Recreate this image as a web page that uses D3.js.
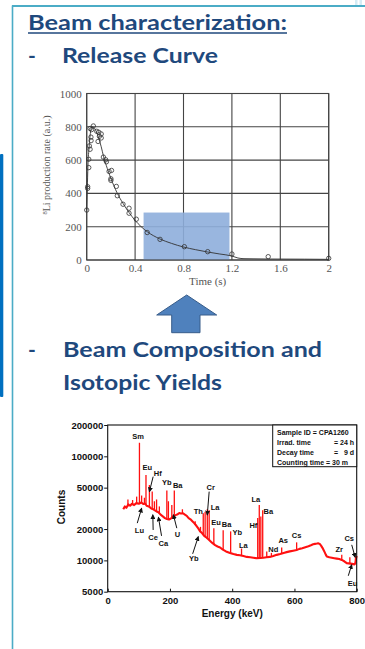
<!DOCTYPE html>
<html>
<head>
<meta charset="utf-8">
<script src="https://cdn.jsdelivr.net/npm/d3@7"></script>
<style>
  body { margin: 0; background: #fff; }
  svg { display: block; }
</style>
</head>
<body>
<svg id="slide" width="365" height="649"></svg>
<script>
// ---------- Release curve (8Li) ----------
const releaseTimes = [0, 0.008, 0.008, 0.017, 0.017, 0.022, 0.028, 0.028, 0.04, 0.035, 0.036, 0.055,
  0.083, 0.1, 0.105, 0.12, 0.12, 0.094, 0.138, 0.157, 0.163, 0.185, 0.205, 0.2, 0.2, 0.245, 0.253,
  0.3, 0.35, 0.35, 0.41, 0.5, 0.606, 0.807, 1.0, 1.2, 1.5, 2.0];
const releaseRates = [300, 440, 430, 555, 605, 685, 665, 790, 783, 738, 717, 805,
  773, 767, 743, 733, 757, 712, 618, 602, 590, 532, 538, 488, 478, 442, 386,
  335, 311, 281, 245, 165, 124, 80, 50, 36, 20, 10];
const fitTimes = [0, 0.005, 0.01, 0.02, 0.03, 0.045, 0.06, 0.08, 0.1, 0.12, 0.14, 0.17, 0.2, 0.25,
  0.3, 0.35, 0.4, 0.45, 0.5, 0.6, 0.7, 0.8, 0.9, 1.0, 1.1, 1.2, 1.25, 1.3, 1.5, 1.8, 2.0];
const fitRates = [300, 430, 560, 680, 760, 800, 795, 770, 730, 680, 620, 550, 490, 405,
  340, 285, 238, 200, 170, 128, 100, 78, 62, 48, 36, 24, 12, 8, 6, 5, 4];
const timeTicks = [0, 0.4, 0.8, 1.2, 1.6, 2];
const rateTicks = [0, 200, 400, 600, 800, 1000];
const windowTimes = [0.47, 1.18];   // highlighted extraction window (s)
const windowRate = 285;

// ---------- Gamma spectrum ----------
const continuumEnergy = [50, 55, 60, 66, 72, 78, 85, 92, 100, 108, 115, 120, 125, 132, 140, 148, 157,
  163, 170, 177, 184, 190, 197, 205, 212, 218, 225, 230, 235, 242, 248, 254, 260, 266, 272, 278, 285,
  291, 297, 303, 310, 318, 326, 335, 345, 353, 361, 370, 380, 393, 404, 415, 425, 436, 447, 458, 468,
  479, 490, 500, 510, 521, 532, 543, 554, 565, 575, 585, 596, 607, 616, 625, 635, 645, 653, 660, 666,
  672, 677, 682, 686, 690, 694, 697, 701, 704, 712, 720, 728, 736, 744, 752, 760, 768, 774, 780, 785,
  789, 793, 795, 797, 798, 800];
const continuumCounts = [31000, 33000, 32000, 34500, 33500, 35000, 34000, 35500, 35000, 36000, 34800,
  35200, 33500, 33000, 31500, 30800, 29500, 29000, 27500, 26500, 25500, 25000, 24700, 25500, 26800,
  27200, 27800, 28500, 28200, 28400, 27500, 26800, 25500, 24800, 23800, 22800, 21500, 20300, 19000,
  18300, 17200, 16500, 15700, 14800, 14000, 13600, 13300, 12700, 12200, 11800, 11500, 11300, 11200,
  11000, 10800, 10700, 10600, 10500, 10550, 10600, 10700, 10800, 11000, 11300, 11500, 11800, 12000,
  12200, 12400, 12600, 12900, 13100, 13400, 13700, 14000, 14300, 14400, 14500, 14600, 14300, 13800,
  13200, 12500, 12000, 11300, 10900, 10700, 10600, 10500, 10400, 10300, 10100, 9800, 9400, 9350, 9300,
  9250, 9200, 9150, 9300, 9800, 10500, 11000];
const peakEnergy = [65, 80, 93, 102, 109, 118, 123, 134, 143, 150, 157, 166, 190, 195, 206, 214, 240,
  281, 298, 307, 313, 320, 326, 341, 371, 395, 430, 482, 487, 492, 498, 511, 526, 559, 607, 752, 778, 796];
const peakBase = [33000, 34000, 35000, 35500, 35500, 34500, 34000, 32500, 31800, 30500, 29500, 28000,
  25200, 24900, 25600, 26900, 28000, 22000, 19000, 17800, 17000, 16300, 15700, 14100, 12700, 11800,
  11000, 10500, 10500, 10500, 10600, 10700, 10900, 11700, 12600, 10100, 9300, 9300];
const peakTop = [38500, 38000, 41000, 135000, 42000, 40000, 66000, 53000, 46000, 37000, 38500, 33000,
  47000, 37000, 34000, 47000, 31000, 23800, 21000, 28400, 29300, 31000, 30400, 20400, 19500, 19000,
  13000, 25500, 34000, 26400, 30400, 12200, 11800, 13300, 14900, 11300, 10700, 10800];

// element labels: text, energy (keV), counts at label centre
const labelText = ["Sm", "Eu", "Hf", "Yb", "Ba", "Lu", "Ce", "Ca", "U", "Yb", "Th", "Cr", "La", "Eu",
  "Ba", "Yb", "La", "Hf", "La", "Ba", "Nd", "As", "Cs", "Zr", "Cs", "Eu"];
const labelEnergy = [98, 127, 161, 190, 225, 102, 146, 179, 224, 277, 291, 331, 345, 348,
  382, 416, 436, 468, 476, 516, 532, 564, 607, 744, 776, 787];
const labelCounts = [154000, 77800, 68800, 55900, 52000, 19300, 16700, 14600, 17600, 10350, 29400,
  50500, 32200, 23100, 21900, 18500, 13800, 21500, 38700, 29400, 12800, 15500, 17200, 12600, 16400, 6050];

// pointer arrows: from (energy, counts) to (energy, counts)
const arrowFromEnergy = [146, 95, 146, 173, 222, 273, 326, 784, 773];
const arrowFromCounts = [63800, 22800, 19600, 17200, 20400, 11560, 45800, 14100, 7110];
const arrowToEnergy = [134, 109, 145, 163, 211, 291, 320, 795, 784];
const arrowToCounts = [45800, 31700, 27400, 26000, 27400, 16900, 27400, 10740, 9070];

const countTicks = [5000, 10000, 20000, 50000, 100000, 200000];
const energyTicks = [0, 200, 400, 600, 800];
const sampleInfo = [
  ["Sample ID = CPA1260", ""],
  ["Irrad. time", "= 24 h"],
  ["Decay time", "=   9 d"],
  ["Counting time = 30 m", ""]
];

// ---------- drawing ----------
const svg = d3.select("#slide");
const navy = "#1f497d";
const titleFont = "Lato, 'Open Sans', sans-serif";
const serif = "'Liberation Serif', 'Times New Roman', serif";
const sans = "'Liberation Sans', Arial, sans-serif";

// slide frame
svg.append("rect").attr("x", 0).attr("y", 154).attr("width", 3.3).attr("height", 243)
  .attr("fill", "#0070c0").attr("rx", 1);
svg.append("line").attr("x1", 12.5).attr("x2", 12.5).attr("y1", 5.5).attr("y2", 649)
  .attr("stroke", "#4bacc6").attr("stroke-width", 1.6);
svg.append("line").attr("x1", 12).attr("x2", 365).attr("y1", 6).attr("y2", 6)
  .attr("stroke", "#4bacc6").attr("stroke-width", 1.8);
svg.append("rect").attr("x", 355).attr("y", 0).attr("width", 2.5).attr("height", 5).attr("fill", "#d5ecf5");
svg.append("rect").attr("x", 359.5).attr("y", 0).attr("width", 2.5).attr("height", 5).attr("fill", "#d5ecf5");

// headings
function heading(txt, x, y, len, underline) {
  const t = svg.append("text").attr("x", x).attr("y", y)
    .attr("font-family", titleFont).attr("font-weight", "bold").attr("font-size", 21)
    .attr("fill", navy).text(txt);
  if (len) t.attr("textLength", len).attr("lengthAdjust", "spacingAndGlyphs");
  if (underline) {
    svg.append("line").attr("x1", x).attr("x2", x + len).attr("y1", y + 3).attr("y2", y + 3)
      .attr("stroke", navy).attr("stroke-width", 1.5);
  }
  return t;
}
heading("Beam characterization:", 28, 30, 259, true);
heading("-", 28, 63, 0, false);
heading("Release Curve", 62, 63, 156, false);
heading("-", 28, 357, 0, false);
heading("Beam Composition and", 63, 357, 259, false);
heading("Isotopic Yields", 63, 390, 159, false);

// up arrow between the two panels
svg.append("path")
  .attr("d", "M186.7,295 L216.7,315 L200,315 L200,332.7 L171.7,332.7 L171.7,315 L156.7,315 Z")
  .attr("fill", "#4f81bd").attr("stroke", "#385d8a").attr("stroke-width", 1);

// ----- release curve panel -----
const x1 = d3.scaleLinear().domain([0, 2]).range([86.7, 328.7]);
const y1 = d3.scaleLinear().domain([0, 1000]).range([260, 93.5]);
const g1 = svg.append("g");
const gridColor = "#444";

g1.selectAll(".vgrid").data(timeTicks).join("line")
  .attr("x1", d => x1(d)).attr("x2", d => x1(d)).attr("y1", y1(0)).attr("y2", y1(1000))
  .attr("stroke", gridColor).attr("stroke-width", 1.1);
g1.selectAll(".hgrid").data(rateTicks).join("line")
  .attr("x1", x1(0)).attr("x2", x1(2)).attr("y1", d => y1(d)).attr("y2", d => y1(d))
  .attr("stroke", gridColor).attr("stroke-width", 1.1);

g1.append("rect")
  .attr("x", x1(windowTimes[0])).attr("y", y1(windowRate))
  .attr("width", x1(windowTimes[1]) - x1(windowTimes[0])).attr("height", y1(0) - y1(windowRate))
  .attr("fill", "#8eaedb").attr("opacity", 0.9);

g1.append("rect").attr("x", x1(0)).attr("y", y1(1000))
  .attr("width", x1(2) - x1(0)).attr("height", y1(0) - y1(1000))
  .attr("fill", "none").attr("stroke", gridColor).attr("stroke-width", 1.1);

const fitLine = d3.line().x(d => x1(d[0])).y(d => y1(d[1])).curve(d3.curveMonotoneX);
g1.append("path").datum(d3.zip(fitTimes, fitRates)).attr("d", fitLine)
  .attr("fill", "none").attr("stroke", "#333").attr("stroke-width", 0.9);

g1.selectAll(".pt").data(d3.zip(releaseTimes, releaseRates)).join("circle")
  .attr("cx", d => x1(d[0])).attr("cy", d => y1(d[1])).attr("r", 2.2)
  .attr("fill", "none").attr("stroke", "#333").attr("stroke-width", 0.8);

const ax1 = g1.append("g").attr("transform", `translate(0,${y1(0)})`)
  .call(d3.axisBottom(x1).tickValues(timeTicks).tickSize(0).tickPadding(4).tickFormat(d3.format("")));
const ay1 = g1.append("g").attr("transform", `translate(${x1(0)},0)`)
  .call(d3.axisLeft(y1).tickValues(rateTicks).tickSize(0).tickPadding(5).tickFormat(d3.format("d")));
[ax1, ay1].forEach(a => {
  a.select(".domain").remove();
  a.selectAll("text").attr("font-family", serif).attr("font-size", 11).attr("fill", "#555");
});

g1.append("text").attr("x", (x1(0) + x1(2)) / 2).attr("y", 285).attr("text-anchor", "middle")
  .attr("font-family", serif).attr("font-size", 11).attr("fill", "#555").text("Time (s)");
const yl = g1.append("text").attr("transform", "translate(50,165) rotate(-90)").attr("text-anchor", "middle")
  .attr("font-family", serif).attr("font-size", 10).attr("fill", "#555");
yl.append("tspan").attr("font-size", 6.5).attr("dy", -3.5).text("8");
yl.append("tspan").attr("dy", 3.5).text("Li production rate (a.u.)");

// ----- gamma spectrum panel -----
const x2 = d3.scaleLinear().domain([0, 800]).range([107.7, 356.7]);
const y2 = d3.scaleLog().domain([5000, 200000]).range([591.7, 425]);
const g2 = svg.append("g");
const red = "#ff1010";

const contLine = d3.line().x(d => x2(d[0])).y(d => y2(d[1]));
g2.append("path").datum(d3.zip(continuumEnergy, continuumCounts)).attr("d", contLine)
  .attr("fill", "none").attr("stroke", red).attr("stroke-width", 2.1).attr("stroke-linejoin", "round");

g2.selectAll(".peak").data(d3.zip(peakEnergy, peakBase, peakTop)).join("line")
  .attr("x1", d => x2(d[0])).attr("x2", d => x2(d[0]))
  .attr("y1", d => y2(d[1])).attr("y2", d => y2(d[2]))
  .attr("stroke", red).attr("stroke-width", 1.3);

g2.append("rect").attr("x", x2(0)).attr("y", y2(200000))
  .attr("width", x2(800) - x2(0)).attr("height", y2(5000) - y2(200000))
  .attr("fill", "none").attr("stroke", "#111").attr("stroke-width", 1.1);

const ax2 = g2.append("g").attr("transform", `translate(0,${y2(5000)})`)
  .call(d3.axisBottom(x2).tickValues(energyTicks).tickSize(-3).tickPadding(5.5));
const ay2 = g2.append("g").attr("transform", `translate(${x2(0)},0)`)
  .call(d3.axisLeft(y2).tickValues(countTicks).tickSize(3.5).tickPadding(1).tickFormat(d3.format("d")));
[ax2, ay2].forEach(a => {
  a.select(".domain").remove();
  a.selectAll("line").attr("stroke", "#111");
  a.selectAll("text").attr("font-family", sans).attr("font-weight", "bold")
    .attr("font-size", 9.5).attr("fill", "#111");
});

g2.append("text").attr("x", (x2(0) + x2(800)) / 2).attr("y", 617).attr("text-anchor", "middle")
  .attr("font-family", sans).attr("font-weight", "bold").attr("font-size", 10).attr("fill", "#111")
  .text("Energy (keV)");
g2.append("text").attr("transform", "translate(65,507) rotate(-90)").attr("text-anchor", "middle")
  .attr("font-family", sans).attr("font-weight", "bold").attr("font-size", 10).attr("fill", "#111")
  .text("Counts");

// arrowhead for pointer lines
svg.append("defs").append("marker").attr("id", "head").attr("viewBox", "0 0 6 6")
  .attr("refX", 5).attr("refY", 3).attr("markerWidth", 5).attr("markerHeight", 5)
  .attr("orient", "auto").append("path").attr("d", "M0,0 L6,3 L0,6 Z").attr("fill", "#111");

g2.selectAll(".ptr").data(d3.range(arrowFromEnergy.length)).join("line")
  .attr("x1", i => x2(arrowFromEnergy[i])).attr("y1", i => y2(arrowFromCounts[i]))
  .attr("x2", i => x2(arrowToEnergy[i])).attr("y2", i => y2(arrowToCounts[i]))
  .attr("stroke", "#111").attr("stroke-width", 1).attr("marker-end", "url(#head)");

g2.selectAll(".lbl").data(d3.range(labelText.length)).join("text")
  .attr("x", i => x2(labelEnergy[i])).attr("y", i => y2(labelCounts[i]))
  .attr("text-anchor", "middle").attr("dominant-baseline", "central")
  .attr("font-family", sans).attr("font-weight", "bold").attr("font-size", 7.5).attr("fill", "#111")
  .text(i => labelText[i]);

// sample information box
const box = g2.append("g");
box.append("rect").attr("x", 272.7).attr("y", y2(200000)).attr("width", 84).attr("height", 41.7)
  .attr("fill", "#fff").attr("stroke", "#111").attr("stroke-width", 1);
sampleInfo.forEach((row, i) => {
  box.append("text").attr("x", 277).attr("y", 435 + i * 10)
    .attr("font-family", sans).attr("font-weight", "bold").attr("font-size", 7).attr("fill", "#111")
    .text(row[0]);
  if (row[1]) {
    box.append("text").attr("x", 354).attr("y", 435 + i * 10).attr("text-anchor", "end")
      .attr("xml:space", "preserve").style("white-space", "pre")
      .attr("font-family", sans).attr("font-weight", "bold").attr("font-size", 7).attr("fill", "#111")
      .text(row[1]);
  }
});
</script>
</body>
</html>
